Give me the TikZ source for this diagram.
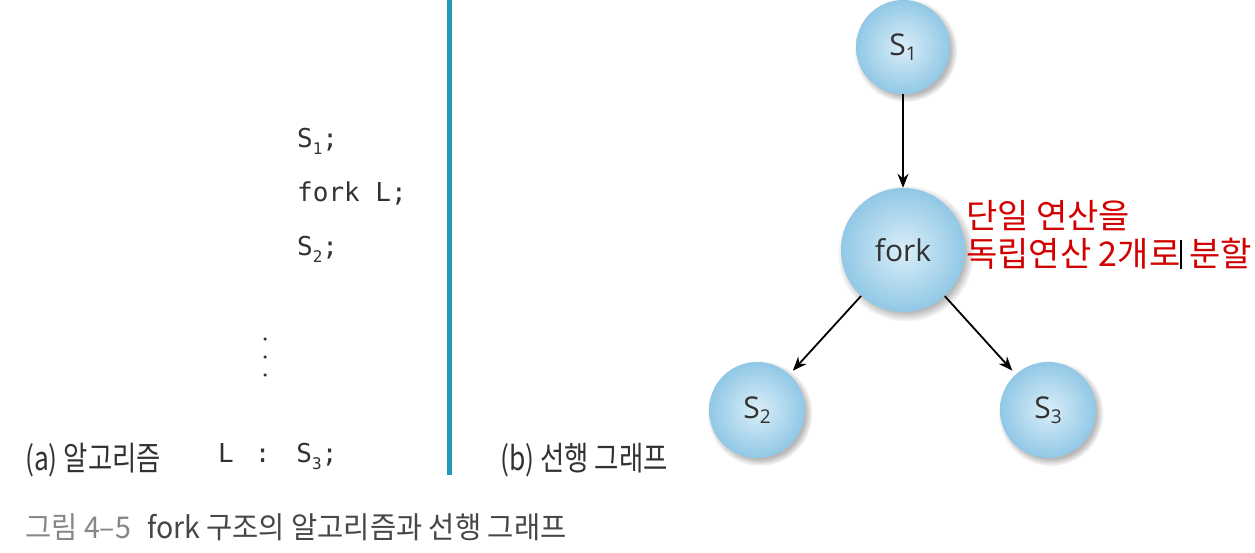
\documentclass[tikz,border=0pt]{standalone}
\usepackage{fontspec}
\setmainfont{Open Sans}
\newfontfamily\krf{Noto Sans CJK KR}
\newfontfamily\monof{DejaVu Sans Mono}
\usetikzlibrary{shadows,arrows.meta}
\definecolor{ballin}{RGB}{218,238,248}
\definecolor{ballout}{RGB}{145,200,230}
\definecolor{txtgray}{RGB}{50,50,50}
\definecolor{barblue}{RGB}{38,152,188}
\definecolor{redtxt}{RGB}{210,0,0}
\definecolor{capgray}{RGB}{135,135,135}
\definecolor{capdark}{RGB}{70,70,70}
\newcommand{\csub}[1]{\raisebox{-7pt}{\fontsize{16}{16}\selectfont #1}}
\newcommand{\nsub}[1]{\raisebox{-5pt}{\fontsize{19}{19}\selectfont #1}}
\begin{document}
\begin{tikzpicture}[x=1pt,y=-1pt,
  ball/.style={circle, draw=none, inner color=ballin, outer color=ballout,
    circular drop shadow={shadow xshift=2.5pt, shadow yshift=-3pt, opacity=0.4, fill=black!70},
    text=txtgray, font=\fontsize{30}{30}\selectfont, inner sep=0pt},
  arr/.style={-{Stealth[length=14pt,width=11pt]}, line width=1.8pt, black},
  code/.style={anchor=base west, inner sep=0pt, text=txtgray, font=\monof\fontsize{26}{26}\selectfont},
  lab/.style={anchor=base west, inner sep=0pt, text=txtgray},
  dot/.style={circle, fill=txtgray, inner sep=0pt, minimum size=3.5pt}
]
\fill[white] (0,0) rectangle (1255,553);
\useasboundingbox (0,0) rectangle (1255,553);

% divider
\draw[barblue, line width=5pt] (449.5,0) coordinate (bt) -- (449.5,475) coordinate (bb);

% code
\node[code] (c1) at (297,148) {S\csub{1};};
\node[code] (c2) at (297,202) {fork L;};
\node[code] (c3) at (297,256) {S\csub{2};};
\node[dot] (d1) at (265,339) {};
\node[dot] (d2) at (265,357) {};
\node[dot] (d3) at (265,375) {};
\node[code] (c4) at (218,462) {L\hspace{21pt}:\hspace{26pt}S\csub{3};};

% labels
\node[lab] (la) at (25,470) {\krf\fontsize{33}{33}\selectfont\scalebox{0.8}[1]{(a) 알고리즘}};
\node[lab] (lb) at (500,470) {\krf\fontsize{33}{33}\selectfont\scalebox{0.8}[1]{(b) 선행 그래프}};
\node[lab] (cap) at (25,538) {\krf\fontsize{30}{30}\selectfont\scalebox{0.95}[1]{\color{capgray}그림 4–5\hspace{17pt}\color{capdark}fork 구조의 알고리즘과 선행 그래프}};

% graph
\node[ball, minimum size=94pt] (s1) at (903,47) {S\nsub{1}};
\node[ball, minimum size=124pt] (fk) at (903,250) {fork};
\node[ball, minimum size=96pt] (s2) at (757,410) {S\nsub{2}};
\node[ball, minimum size=96pt] (s3) at (1048,410) {S\nsub{3}};

\draw[arr] (s1) -- (fk);
\draw[arr, shorten >=5pt] (fk) -- (s2);
\draw[arr, shorten >=5pt] (fk) -- (s3);

% red note
\node[anchor=base west, inner sep=0pt, text=redtxt, align=left,
  font=\krf\fontsize{34}{37}\selectfont] (note) at (966,266)
  {단일 연산을\\독립연산 2개로{\color{black}\rule[-3pt]{1.2pt}{29pt}} 분할};
\end{tikzpicture}
\end{document}
